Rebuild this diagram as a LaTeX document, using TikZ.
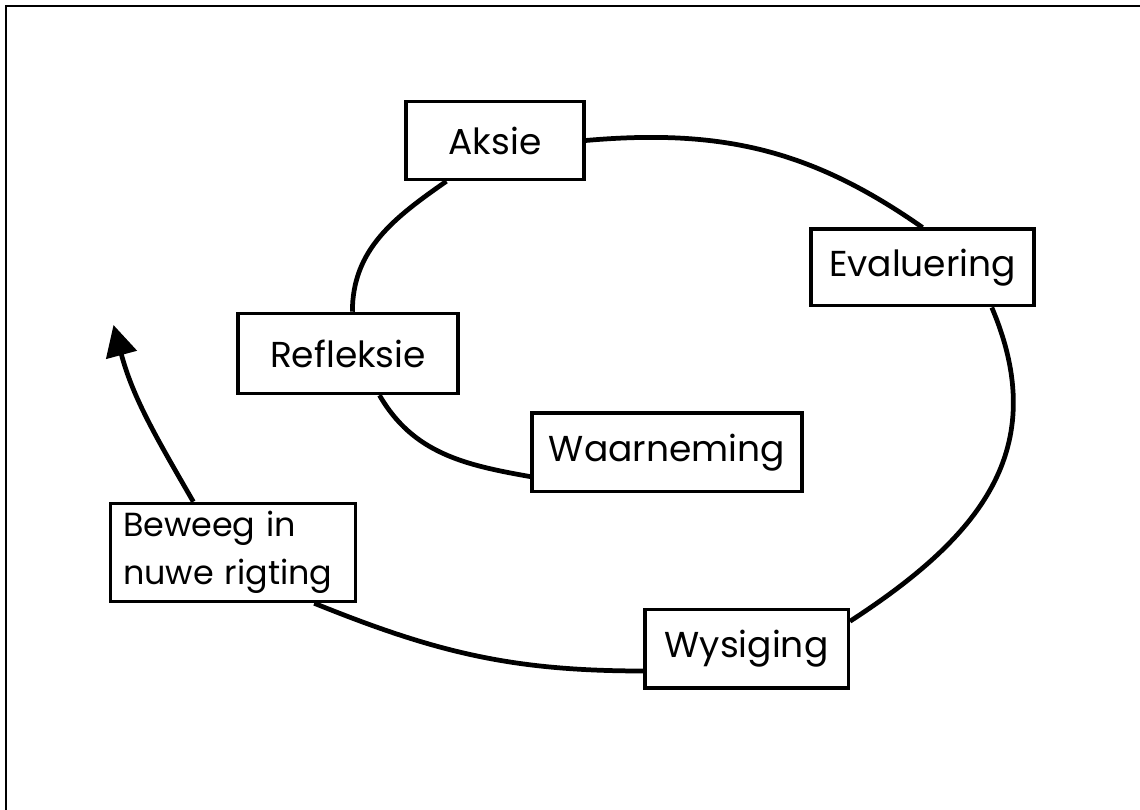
\documentclass[tikz,border=0pt]{standalone}
\usepackage{fontspec}
\setmainfont{Poppins}
\usepackage{tikz}
\usetikzlibrary{arrows.meta, positioning}

\begin{document}
\begin{tikzpicture}[
    phase/.style={rectangle, draw=black, fill=white, line width=2pt, inner sep=0pt, align=center, font=\fontsize{20.5}{27}\selectfont},
    link/.style={line width=2.7pt},
    arrow/.style={link, -{Triangle[length=6.2mm, width=6.2mm]}}
]
\useasboundingbox (0,0) rectangle (22.8,16.2);

% Frame
\draw[line width=1.5pt] (0.12,0) -- (0.12,16.08) -- (22.8,16.08);

% Aksie
\node[phase, minimum width=3.56cm, minimum height=1.56cm] (aksie) at (9.9,13.39) {Aksie};

% Evaluering
\node[phase, minimum width=4.46cm, minimum height=1.53cm] (eval) at (18.45,10.85) {Evaluering};

% Refleksie
\node[phase, minimum width=4.39cm, minimum height=1.6cm] (refl) at (6.96,9.13) {Refleksie};

% Waarneming
\node[phase, minimum width=5.4cm, minimum height=1.57cm] (waar) at (13.34,7.15) {Waarneming};

% Beweeg in nuwe rigting
\node[phase, align=left, inner xsep=0.25cm, text width=4.4cm, minimum height=1.96cm,
      font=\fontsize{19}{27}\selectfont] (bew) at (4.66,5.15) {Beweeg in\\nuwe rigting};

% Wysiging
\node[phase, minimum width=4.07cm, minimum height=1.57cm] (wys) at (14.93,3.22) {Wysiging};

% Spiral
\draw[link] (waar.190) to[out=170, in=-60] (refl.307);
\draw[link] (refl.84) to[out=90, in=-145] (aksie.220);
\draw[link] (aksie.east) to[out=5, in=145] (eval.north);
\draw[link] (eval.330) to[out=-67, in=33, looseness=1.15] (wys.15);
\draw[link] (wys.192) to[out=180, in=-22] (bew.328);

% New direction
\coordinate (tip) at (2.27,9.7);
\draw[arrow] (bew.128) to[out=120, in=-75] (tip);

\end{tikzpicture}
\end{document}
